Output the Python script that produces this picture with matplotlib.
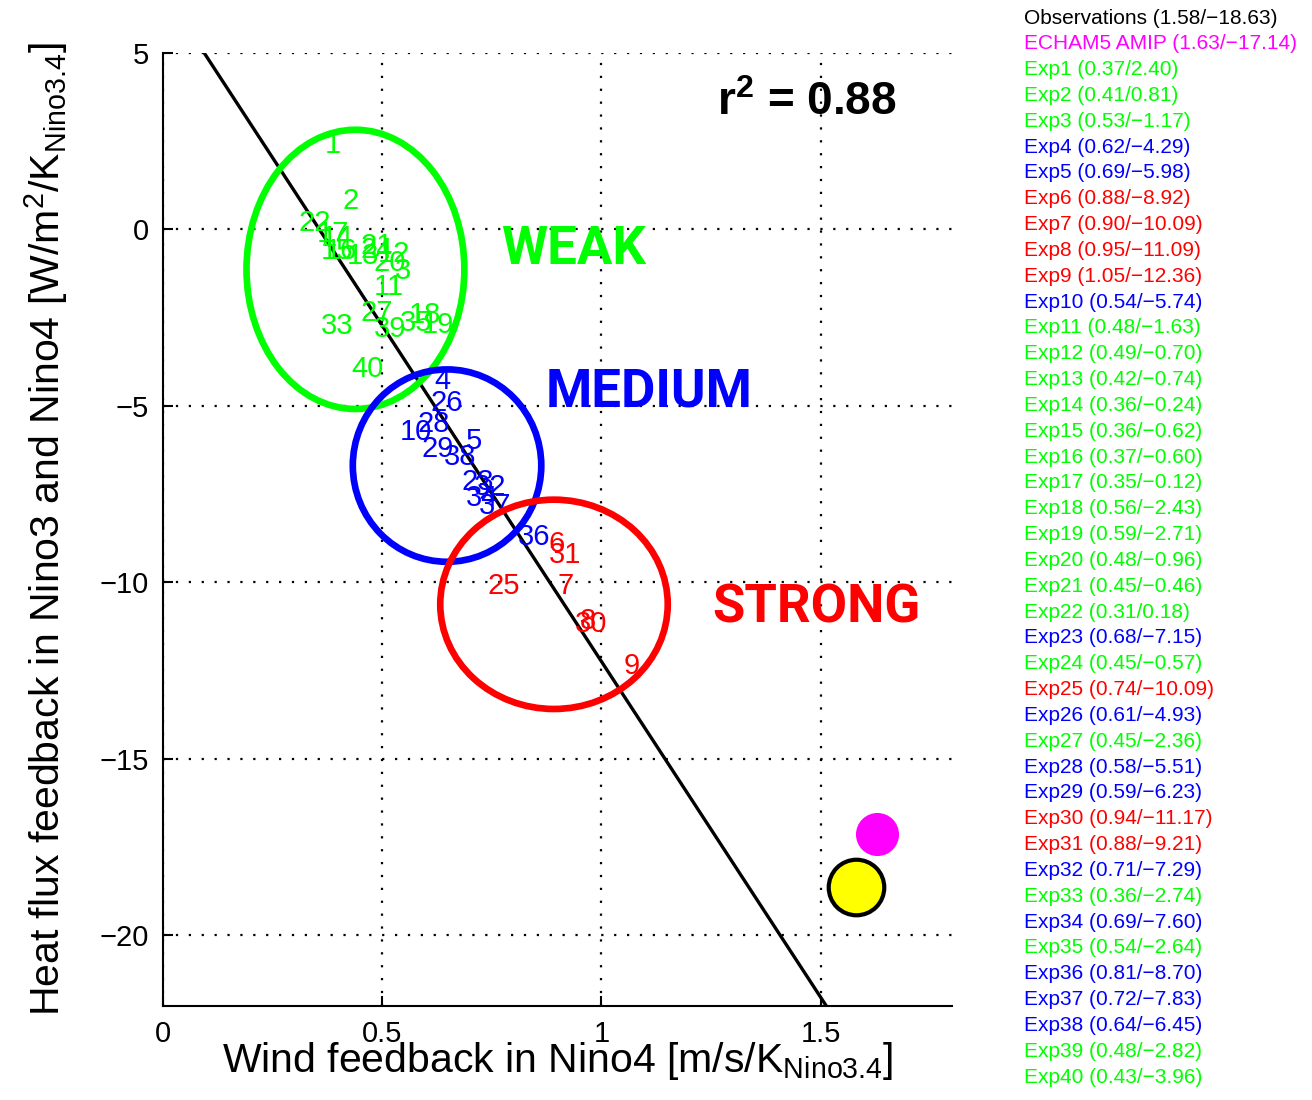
import numpy as np
import matplotlib
matplotlib.use("Agg")
import matplotlib.pyplot as plt
from matplotlib.patches import Ellipse

plt.rcParams['font.family'] = ['Liberation Sans', 'DejaVu Sans']
plt.rcParams['mathtext.fontset'] = 'custom'
plt.rcParams['mathtext.rm'] = 'Liberation Sans'
plt.rcParams['mathtext.it'] = 'Liberation Sans:italic'
plt.rcParams['mathtext.bf'] = 'Liberation Sans:bold'

# ---- data ----
exp_wind = [0.37, 0.41, 0.53, 0.62, 0.69, 0.88, 0.90, 0.95, 1.05, 0.54,
            0.48, 0.49, 0.42, 0.36, 0.36, 0.37, 0.35, 0.56, 0.59, 0.48,
            0.45, 0.31, 0.68, 0.45, 0.74, 0.61, 0.45, 0.58, 0.59, 0.94,
            0.88, 0.71, 0.36, 0.69, 0.54, 0.81, 0.72, 0.64, 0.48, 0.43]
exp_heat = [2.40, 0.81, -1.17, -4.29, -5.98, -8.92, -10.09, -11.09, -12.36, -5.74,
            -1.63, -0.70, -0.74, -0.24, -0.62, -0.60, -0.12, -2.43, -2.71, -0.96,
            -0.46, 0.18, -7.15, -0.57, -10.09, -4.93, -2.36, -5.51, -6.23, -11.17,
            -9.21, -7.29, -2.74, -7.60, -2.64, -8.70, -7.83, -6.45, -2.82, -3.96]
exp_group = ['W', 'W', 'W', 'M', 'M', 'S', 'S', 'S', 'S', 'M',
             'W', 'W', 'W', 'W', 'W', 'W', 'W', 'W', 'W', 'W',
             'W', 'W', 'M', 'W', 'S', 'M', 'W', 'M', 'M', 'S',
             'S', 'M', 'W', 'M', 'W', 'M', 'M', 'M', 'W', 'W']
obs_point = (1.58, -18.63)
echam_point = (1.63, -17.14)
r2_value = 0.88

group_names = ['WEAK', 'MEDIUM', 'STRONG']
group_keys = ['W', 'M', 'S']
group_colors = {'W': '#00ff00', 'M': '#0000ff', 'S': '#ff0000'}
# ellipse centres / sizes (data units)
ell_center = [(0.439, -1.13), (0.648, -6.69), (0.892, -10.62)]
ell_size = [(0.497, 7.91), (0.430, 5.45), (0.519, 5.93)]
group_label_pos = [(0.771, -0.56), (0.874, -4.60), (1.252, -10.73)]

x_ticks = [0, 0.5, 1, 1.5]
x_ticklabels = ['0', '0.5', '1', '1.5']
y_ticks = [5, 0, -5, -10, -15, -20]

# ---- figure ----
fig = plt.figure(figsize=(13.12, 11.0), dpi=100)
ax = fig.add_axes([163/1312, 1-1006/1100, (952-163)/1312, (1006-53)/1100])
ax.set_xlim(0, 1.8)
ax.set_ylim(-22, 5)

for s in ['top', 'right']:
    ax.spines[s].set_visible(False)
for s in ['left', 'bottom']:
    ax.spines[s].set_linewidth(1.5)

ax.set_xticks(x_ticks)
ax.set_xticklabels(x_ticklabels)
ax.set_yticks(y_ticks)
ax.tick_params(direction='in', length=7, width=1.5, labelsize=21, pad=10)
ax.grid(True, color='k', linestyle=(0, (1, 4.8)), linewidth=1.6)
ax.set_axisbelow(True)

# regression line
coef = np.polyfit(exp_wind, exp_heat, 1)
xl = np.array([0.0, 1.8])
ax.plot(xl, np.polyval(coef, xl), color='k', lw=2.4, zorder=3)

# experiment numbers
for i, (xv, yv, g) in enumerate(zip(exp_wind, exp_heat, exp_group)):
    ax.text(xv, yv, str(i + 1), color=group_colors[g], fontsize=21,
            ha='left', va='center', zorder=4)

# ellipses and group labels
for k, name, c, sz, lp in zip(group_keys, group_names, ell_center, ell_size, group_label_pos):
    ax.add_patch(Ellipse(c, sz[0], sz[1], fill=False, edgecolor=group_colors[k],
                         lw=4.8, zorder=5))
    ax.text(lp[0], lp[1], name, color=group_colors[k], fontsize=38,
            fontweight='bold', ha='left', va='center',
            family=['Roboto', 'Liberation Sans', 'DejaVu Sans'],
            zorder=6)

# obs and echam points
ax.plot(obs_point[0], obs_point[1], 'o', ms=40, mfc='#ffff00', mec='k', mew=3, zorder=6, clip_on=False)
ax.plot(echam_point[0], echam_point[1], 'o', ms=31, mfc='#ff00ff', mec='#ff00ff', mew=0, zorder=6, clip_on=False)

# r^2
ax.text(1.265, 3.59, r'r$^{\mathbf{2}}$ = %.2f' % r2_value, fontsize=33,
        fontweight='bold', ha='left', va='center', zorder=6)

ax.set_xlabel(r'Wind feedback in Nino4 [m/s/K$_{\mathrm{Nino3.4}}$]', fontsize=29.5)
ax.set_ylabel(r'Heat flux feedback in Nino3 and Nino4 [W/m$^{2}$/K$_{\mathrm{Nino3.4}}$]', fontsize=29.5)
ax.xaxis.set_label_coords(0.5, -0.036)
ax.yaxis.set_label_coords(-0.118, 0.5)

# side legend text
def fmt(v):
    return ('%.2f' % v).replace('-', '\u2212')

entries = [('Observations (%s/%s)' % (fmt(obs_point[0]), fmt(obs_point[1])), 'k'),
           ('ECHAM5 AMIP (%s/%s)' % (fmt(echam_point[0]), fmt(echam_point[1])), '#ff00ff')]
for i, (xv, yv, g) in enumerate(zip(exp_wind, exp_heat, exp_group)):
    entries.append(('Exp%d (%s/%s)' % (i + 1, fmt(xv), fmt(yv)), group_colors[g]))

for i, (txt, col) in enumerate(entries):
    fig.text(1024/1312, 1 - (18 + i * 25.83)/1100, txt, color=col, fontsize=15,
             ha='left', va='center')

fig.savefig('out.png', dpi=100)
